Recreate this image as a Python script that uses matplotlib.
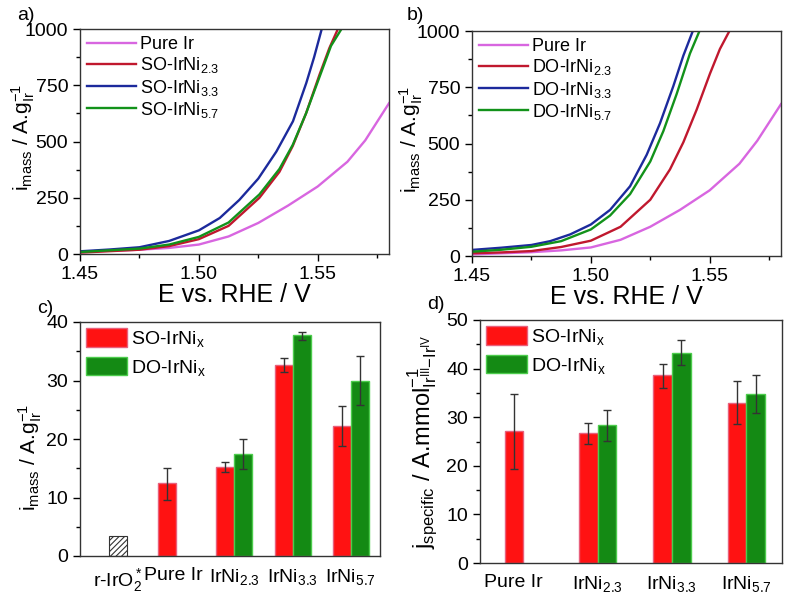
import numpy as np
import matplotlib
matplotlib.use("Agg")
import matplotlib.pyplot as plt
from matplotlib.ticker import MultipleLocator, FormatStrFormatter
from matplotlib.patches import Patch

plt.rcParams['font.family'] = ['Liberation Sans', 'DejaVu Sans']
plt.rcParams['mathtext.fontset'] = 'custom'
plt.rcParams['mathtext.rm'] = 'Liberation Sans'
plt.rcParams['mathtext.it'] = 'Liberation Sans'
plt.rcParams['hatch.linewidth'] = 0.8

# ---- panel a: SO polarisation curves ----
a_pure_v = [1.450, 1.475, 1.4875, 1.500, 1.5125, 1.525, 1.5375, 1.550, 1.5625, 1.570, 1.580]
a_pure_i = [10, 19, 27, 42, 78, 138, 215, 300, 410, 505, 670]
a_33_v = [1.450, 1.4625, 1.475, 1.4875, 1.500, 1.5088, 1.517, 1.525, 1.5326, 1.5396,
          1.5452, 1.5485, 1.5517]
a_33_i = [12, 20, 30, 58, 105, 160, 240, 335, 455, 590, 760, 875, 1000]
a_23_v = [1.450, 1.475, 1.4875, 1.500, 1.5125, 1.5255, 1.5339, 1.5395, 1.5451, 1.5507,
          1.5549, 1.5585]
a_23_i = [6, 19, 35, 66, 125, 250, 365, 480, 625, 795, 915, 1000]
a_57_v = [1.450, 1.475, 1.4875, 1.500, 1.5125, 1.5255, 1.5339, 1.5395, 1.5451, 1.5507,
          1.5556, 1.5600]
a_57_i = [9, 24, 42, 76, 140, 265, 378, 485, 625, 785, 925, 1000]

# ---- panel b: DO polarisation curves ----
b_pure_v = [1.450, 1.475, 1.4875, 1.500, 1.5125, 1.525, 1.5375, 1.550, 1.5625, 1.570, 1.580]
b_pure_i = [7, 17, 25, 38, 72, 130, 205, 292, 410, 512, 675]
b_33_v = [1.450, 1.4625, 1.475, 1.4829, 1.4913, 1.500, 1.5081, 1.5165, 1.5235, 1.5291,
          1.5347, 1.5389, 1.5429]
b_33_i = [27, 37, 49, 66, 96, 140, 205, 310, 450, 590, 755, 890, 1000]
b_57_v = [1.450, 1.4625, 1.475, 1.4875, 1.500, 1.5081, 1.5165, 1.525, 1.5305, 1.5361,
          1.5417, 1.5457]
b_57_i = [19, 28, 41, 66, 118, 180, 275, 420, 555, 720, 900, 1000]
b_23_v = [1.450, 1.4625, 1.475, 1.4875, 1.500, 1.5125, 1.525, 1.5333, 1.5389, 1.5445,
          1.5501, 1.5543, 1.5583]
b_23_i = [12, 16, 22, 40, 68, 130, 250, 385, 505, 650, 810, 920, 1000]

# ---- panel c: mass activity ----
c_cats = ['r-IrO$_2^*$', 'Pure Ir', 'IrNi$_{2.3}$', 'IrNi$_{3.3}$', 'IrNi$_{5.7}$']
c_ref = 3.4
c_so = [12.4, 15.2, 32.7, 22.2]
c_so_lo = [9.6, 14.3, 31.5, 18.8]
c_so_hi = [15.1, 16.0, 33.9, 25.6]
c_do = [17.5, 37.7, 30.0]
c_do_lo = [14.9, 37.0, 25.8]
c_do_hi = [20.0, 38.3, 34.2]

# ---- panel d: specific activity ----
d_cats = ['Pure Ir', 'IrNi$_{2.3}$', 'IrNi$_{3.3}$', 'IrNi$_{5.7}$']
d_so = [27.2, 26.8, 38.6, 33.0]
d_so_lo = [19.4, 24.5, 36.1, 28.5]
d_so_hi = [34.8, 28.8, 40.9, 37.4]
d_do = [28.4, 43.3, 34.75]
d_do_lo = [25.1, 40.7, 30.9]
d_do_hi = [31.5, 45.8, 38.6]

col_pure = '#d866e0'
col_23 = '#c0182e'
col_33 = '#1c2a9c'
col_57 = '#12921a'
bar_red = '#ff1212'
bar_red_edge = '#e8607c'
bar_green = '#148a14'
bar_green_edge = '#4ccc4c'

W, H = 788, 601
fig = plt.figure(figsize=(W / 100, H / 100), dpi=100)


def rect(l, r, t, b):
    return [l / W, 1 - b / H, (r - l) / W, (b - t) / H]


def style_axes(ax):
    ax.tick_params(which='both', direction='out', top=False, right=False, labelsize=14)
    ax.tick_params(which='major', length=5, width=1)
    ax.tick_params(which='minor', length=3, width=1)
    for s in ax.spines.values():
        s.set_linewidth(1.0)
        s.set_color('#333333')


ylab_mass = r'$\mathregular{i_{mass}}$ / A.g$\mathregular{_{Ir}^{-1}}$'

for ax_rect, lbl, lbl_xy, ylx, curves in [
    (rect(80, 389, 29, 254), 'a)', (-0.204, 1.062), -0.14,
     [(a_pure_v, a_pure_i, col_pure, 'Pure Ir'),
      (a_23_v, a_23_i, col_23, 'SO-IrNi$_{2.3}$'),
      (a_33_v, a_33_i, col_33, 'SO-IrNi$_{3.3}$'),
      (a_57_v, a_57_i, col_57, 'SO-IrNi$_{5.7}$')]),
    (rect(472, 781, 31, 256), 'b)', (-0.21, 1.07), -0.152,
     [(b_pure_v, b_pure_i, col_pure, 'Pure Ir'),
      (b_23_v, b_23_i, col_23, 'DO-IrNi$_{2.3}$'),
      (b_33_v, b_33_i, col_33, 'DO-IrNi$_{3.3}$'),
      (b_57_v, b_57_i, col_57, 'DO-IrNi$_{5.7}$')])]:
    ax = fig.add_axes(ax_rect)
    for v, i, c, name in curves:
        ax.plot(v, i, color=c, lw=1.7, label=name, solid_joinstyle='round')
    ax.set_xlim(1.45, 1.58)
    ax.set_ylim(0, 1000)
    ax.xaxis.set_major_locator(MultipleLocator(0.05))
    ax.xaxis.set_minor_locator(MultipleLocator(0.025))
    ax.xaxis.set_major_formatter(FormatStrFormatter('%.2f'))
    ax.yaxis.set_major_locator(MultipleLocator(250))
    ax.yaxis.set_minor_locator(MultipleLocator(125))
    style_axes(ax)
    ax.set_xlabel('E vs. RHE / V', fontsize=18, labelpad=0)
    ax.set_ylabel(ylab_mass, fontsize=15)
    ax.yaxis.set_label_coords(ylx, 0.52)
    ax.legend(loc='upper left', frameon=False, fontsize=13, handlelength=2.7,
              borderaxespad=0.2, borderpad=0.2, labelspacing=0.12, handletextpad=0.2)
    ax.text(lbl_xy[0], lbl_xy[1], lbl, transform=ax.transAxes, fontsize=14,
            ha='left', va='center')

# panel c
bw = 0.31
axc = fig.add_axes(rect(80, 380, 322, 556))
xg = np.arange(len(c_cats))
axc.bar(0, c_ref, width=bw, color='white', edgecolor='#333333', hatch='//////', lw=0.8)
so_x = xg[1:] - bw / 2
do_x = xg[2:] + bw / 2
axc.bar(so_x, c_so, width=bw, color=bar_red, edgecolor=bar_red_edge, lw=1,
        yerr=[np.array(c_so) - np.array(c_so_lo), np.array(c_so_hi) - np.array(c_so)],
        error_kw=dict(ecolor='#333333', elinewidth=1, capsize=3, capthick=1))
axc.bar(do_x, c_do, width=bw, color=bar_green, edgecolor=bar_green_edge, lw=1,
        yerr=[np.array(c_do) - np.array(c_do_lo), np.array(c_do_hi) - np.array(c_do)],
        error_kw=dict(ecolor='#333333', elinewidth=1, capsize=3, capthick=1))
axc.set_xlim(-0.65, 4.5)
axc.set_ylim(0, 40)
axc.set_xticks([0, 0.95, 2, 3, 4])
axc.set_xticklabels(c_cats)
axc.yaxis.set_major_locator(MultipleLocator(10))
axc.yaxis.set_minor_locator(MultipleLocator(5))
style_axes(axc)
axc.tick_params(axis='x', length=0, pad=8)
axc.set_ylabel(ylab_mass, fontsize=15)
axc.yaxis.set_label_coords(-0.12, 0.42)

# panel d
bw_d = 0.25
axd = fig.add_axes(rect(480, 782, 320, 563))
xd = np.arange(len(d_cats))
axd.bar(xd - bw_d / 2, d_so, width=bw_d, color=bar_red, edgecolor=bar_red_edge, lw=1,
        yerr=[np.array(d_so) - np.array(d_so_lo), np.array(d_so_hi) - np.array(d_so)],
        error_kw=dict(ecolor='#333333', elinewidth=1, capsize=3, capthick=1))
axd.bar(xd[1:] + bw_d / 2, d_do, width=bw_d, color=bar_green, edgecolor=bar_green_edge, lw=1,
        yerr=[np.array(d_do) - np.array(d_do_lo), np.array(d_do_hi) - np.array(d_do)],
        error_kw=dict(ecolor='#333333', elinewidth=1, capsize=3, capthick=1))
axd.set_xlim(-0.58, 3.48)
axd.set_ylim(0, 50)
axd.set_xticks([-bw_d / 2, 1, 2, 3])
axd.set_xticklabels(d_cats)
axd.yaxis.set_major_locator(MultipleLocator(10))
axd.yaxis.set_minor_locator(MultipleLocator(5))
style_axes(axd)
axd.tick_params(axis='x', length=0, pad=8)
axd.set_ylabel(r'$\mathregular{j_{specific}}$ / A.mmol$\mathregular{^{-1}_{Ir^{III}{-}Ir^{IV}}}$',
               fontsize=17)
axd.yaxis.set_label_coords(-0.135, 0.5)

for ax, lbl, lbl_xy in [(axc, 'c)', (-0.143, 1.056)), (axd, 'd)', (-0.175, 1.062))]:
    handles = [Patch(facecolor=bar_red, edgecolor=bar_red_edge, label='SO-IrNi$_x$'),
               Patch(facecolor=bar_green, edgecolor=bar_green_edge, label='DO-IrNi$_x$')]
    ax.legend(handles=handles, loc='upper left', frameon=False, fontsize=14,
              handlelength=2.1, handleheight=1.1, borderaxespad=0.15, borderpad=0.15,
              labelspacing=0.4, handletextpad=0.2)
    ax.text(lbl_xy[0], lbl_xy[1], lbl, transform=ax.transAxes,
            fontsize=14, ha='left', va='center')

fig.savefig('out.png', dpi=100)
